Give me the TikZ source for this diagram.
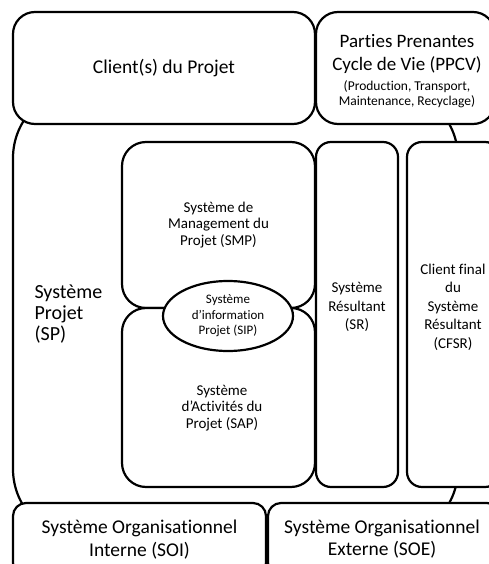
\documentclass[tikz,border=0pt]{standalone}
\usepackage{fontspec}
\setmainfont{Carlito}[Ligatures={NoCommon}]
\usetikzlibrary{shapes.geometric, positioning}
\tikzset{
  sysbox/.style={rectangle, draw, fill=white, line width=2.2pt, rounded corners=20pt, align=center, inner sep=0pt},
  bigfont/.style={font=\fontsize{19.5}{22.5}\selectfont, align=center},
  midfont/.style={font=\fontsize{15}{18.5}\selectfont, align=center},
  subfont/.style={font=\fontsize{15}{16.5}\selectfont, align=center},
  smallfont/.style={font=\fontsize{13}{15.5}\selectfont, align=center},
}

\begin{document}
\begin{tikzpicture}[x=1pt, y=-1pt]
  \useasboundingbox (0,0) rectangle (489,564);
  \clip (0,0) rectangle (489,564);

  % Systeme Projet (outer)
  \node[sysbox, rounded corners=70pt, minimum width=445pt, minimum height=451pt] (sp) at (235.5,313.5) {};
  \node[font=\fontsize{20}{21}\selectfont, align=left, anchor=west] (sptext) at (31,314) {Système\\Projet\\(SP)};

  % Resultant and final client
  \node[sysbox, rounded corners=15pt, minimum width=82pt, minimum height=345pt] (sr) at (357,314.5) {};
  \node[midfont] (srtext) at (357,307) {Système\\Résultant\\(SR)};
  \node[sysbox, rounded corners=15pt, minimum width=93pt, minimum height=345pt] (cfsr) at (453.5,314.5) {};
  \node[midfont] (cfsrtext) at (453,307) {Client final\\du\\Système\\Résultant\\(CFSR)};

  % Management and activities
  \node[sysbox, rounded corners=24pt, minimum width=193pt, minimum height=166pt, subfont] (smp) at (218.5,225) {Système de\\Management du\\Projet (SMP)};
  \node[sysbox, rounded corners=24pt, minimum width=193pt, minimum height=179pt] (sap) at (218.5,397.5) {};
  \node[subfont] (saptext) at (222,408) {Système\\d’Activités du\\Projet (SAP)};

  % Information system
  \node[ellipse, draw, fill=white, line width=2.2pt, minimum width=130pt, minimum height=70pt, inner sep=0pt, smallfont] (sip) at (228,316) {Système\\d’information\\Projet (SIP)};

  % Clients and stakeholders
  \node[sysbox, rounded corners=22pt, minimum width=302pt, minimum height=112pt, bigfont] (client) at (164,68) {Client(s) du Projet};
  \node[sysbox, rounded corners=22pt, minimum width=179pt, minimum height=112pt] (ppcv) at (405.5,68) {};
  \node[bigfont, font=\fontsize{19}{22.5}\selectfont] (ppcvtext) at (407,54) {Parties Prenantes\\Cycle de Vie (PPCV)};
  \node[smallfont, font=\fontsize{13.5}{15}\selectfont, below=0pt of ppcvtext] (ppcvsub) {(Production, Transport,\\Maintenance, Recyclage)};

  % Organisational systems
  \node[sysbox, rounded corners=13pt, minimum width=253pt, minimum height=73pt, bigfont] (soi) at (139.5,539.5) {Système Organisationnel\\Interne (SOI)};
  \node[sysbox, rounded corners=13pt, minimum width=232pt, minimum height=73pt] (soe) at (384,539.5) {};
  \node[bigfont] (soetext) at (382,539) {Système Organisationnel\\Externe (SOE)};
\end{tikzpicture}
\end{document}
